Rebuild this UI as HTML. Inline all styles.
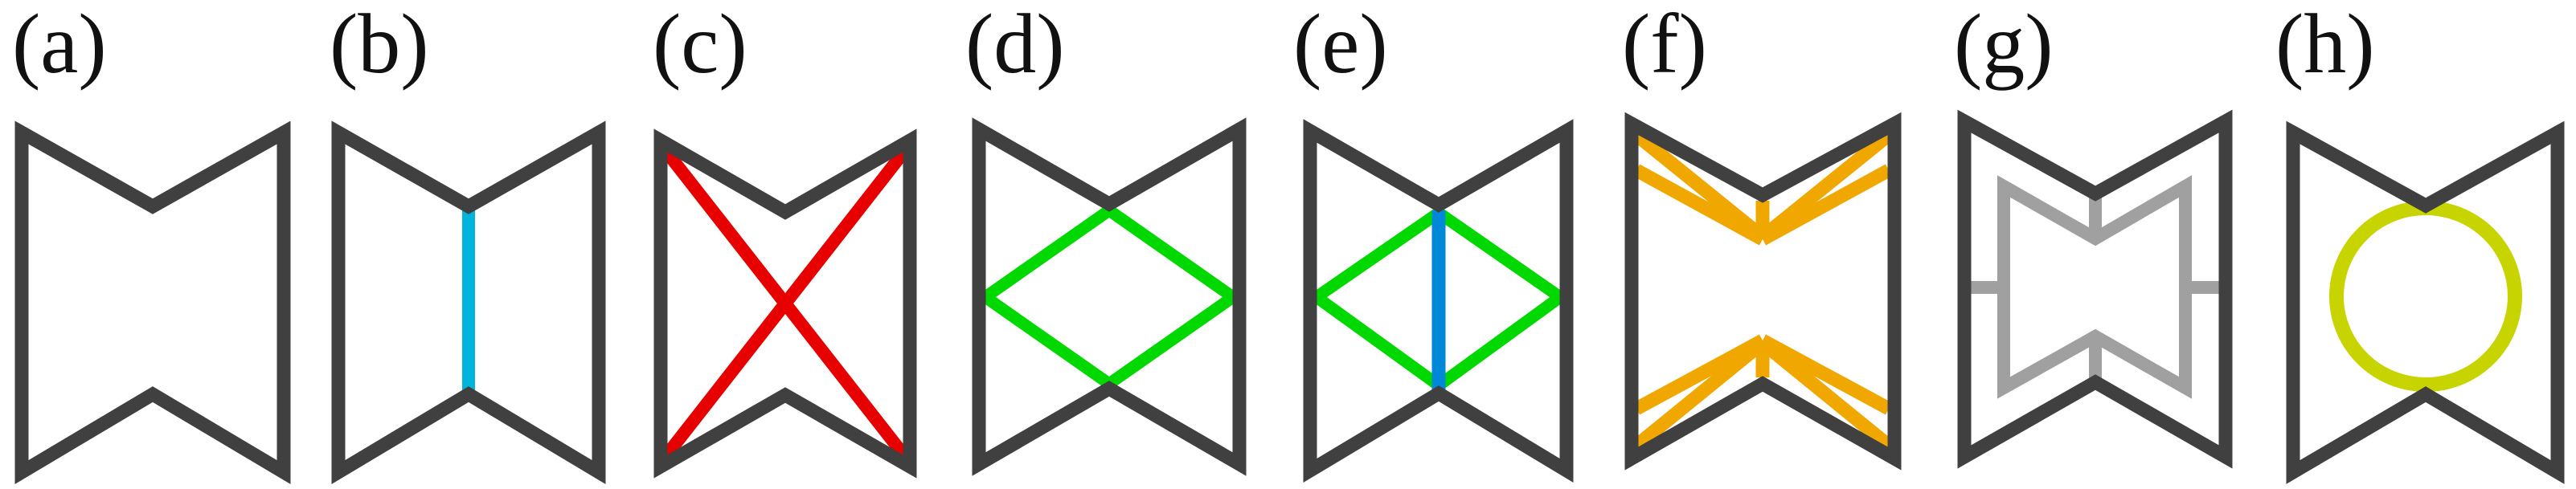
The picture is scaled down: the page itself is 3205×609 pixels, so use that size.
<!DOCTYPE html>
<html><head><meta charset="utf-8"><style>
html,body{margin:0;padding:0;background:#fff;}
svg{display:block;}
text{font-family:"Liberation Serif",serif;font-size:106px;fill:#111;}
</style></head><body>
<svg width="3205" height="609" viewBox="0 0 3205 609" xmlns="http://www.w3.org/2000/svg">
<g fill="none" stroke-linejoin="miter" stroke-miterlimit="10">

<!-- (a) -->
<polygon points="27,165 190,257 353,165 353,588 190,491 27,588" stroke="#404040" stroke-width="17"/>

<!-- (b) -->
<line x1="583" y1="262" x2="583" y2="488" stroke="#00b4dc" stroke-width="16"/>
<polygon points="421,165 583,257 745,165 745,588 583,491 421,588" stroke="#404040" stroke-width="17"/>

<!-- (c) -->
<line x1="830" y1="190" x2="1124" y2="566" stroke="#e60000" stroke-width="16"/>
<line x1="1124" y1="190" x2="830" y2="566" stroke="#e60000" stroke-width="16"/>
<polygon points="822,175 977,264 1132,175 1132,581 977,492 822,581" stroke="#404040" stroke-width="17"/>

<!-- (d) -->
<polyline points="1380,262 1226,370 1380,478 1534,370 1380,262" stroke="#00d800" stroke-width="15"/>
<polygon points="1218,161 1380,254 1542,161 1542,578 1380,484 1218,578" stroke="#404040" stroke-width="17"/>

<!-- (e) -->
<polyline points="1790,265 1638,370 1790,480 1941,370 1790,265" stroke="#00d800" stroke-width="15"/>
<line x1="1790" y1="262" x2="1790" y2="486" stroke="#0088d8" stroke-width="17"/>
<polygon points="1630,163 1790,255 1949,163 1949,586 1790,490 1630,586" stroke="#404040" stroke-width="17"/>

<!-- (f) -->
<g stroke="#f0a800" stroke-width="17" stroke-linecap="butt">
<line x1="2036" y1="168" x2="2193" y2="295"/>
<line x1="2036" y1="212" x2="2193" y2="298"/>
<line x1="2350" y1="168" x2="2193" y2="295"/>
<line x1="2350" y1="212" x2="2193" y2="298"/>
<line x1="2193" y1="250" x2="2193" y2="295"/>
<line x1="2036" y1="555" x2="2193" y2="427"/>
<line x1="2036" y1="509" x2="2193" y2="424"/>
<line x1="2350" y1="555" x2="2193" y2="427"/>
<line x1="2350" y1="509" x2="2193" y2="424"/>
<line x1="2193" y1="470" x2="2193" y2="427"/>
</g>
<polygon points="2030,154 2193,243 2357,154 2357,571 2193,478 2030,571" stroke="#404040" stroke-width="17"/>

<!-- (g) -->
<g stroke="#a0a0a0" stroke-width="16">
<polygon points="2493,232 2607,297 2719,232 2719,483 2607,419 2493,483"/>
<line x1="2450" y1="358" x2="2493" y2="358"/>
<line x1="2719" y1="358" x2="2762" y2="358"/>
<line x1="2607" y1="245" x2="2607" y2="297"/>
<line x1="2607" y1="419" x2="2607" y2="472"/>
</g>
<polygon points="2444,151 2607,241 2769,151 2769,569 2607,476 2444,569" stroke="#404040" stroke-width="17"/>

<!-- (h) -->
<ellipse cx="3018" cy="369" rx="111" ry="110" stroke="#c8d400" stroke-width="18"/>
<polygon points="2853,165 3018,256 3182,165 3182,588 3018,491 2853,588" stroke="#404040" stroke-width="17"/>
</g>

<text x="15" y="90">(a)</text>
<text x="410" y="90">(b)</text>
<text x="812" y="90">(c)</text>
<text x="1201" y="90">(d)</text>
<text x="1609" y="90">(e)</text>
<text x="2018" y="90">(f)</text>
<text x="2431" y="90">(g)</text>
<text x="2831" y="90">(h)</text>
</svg>
</body></html>
